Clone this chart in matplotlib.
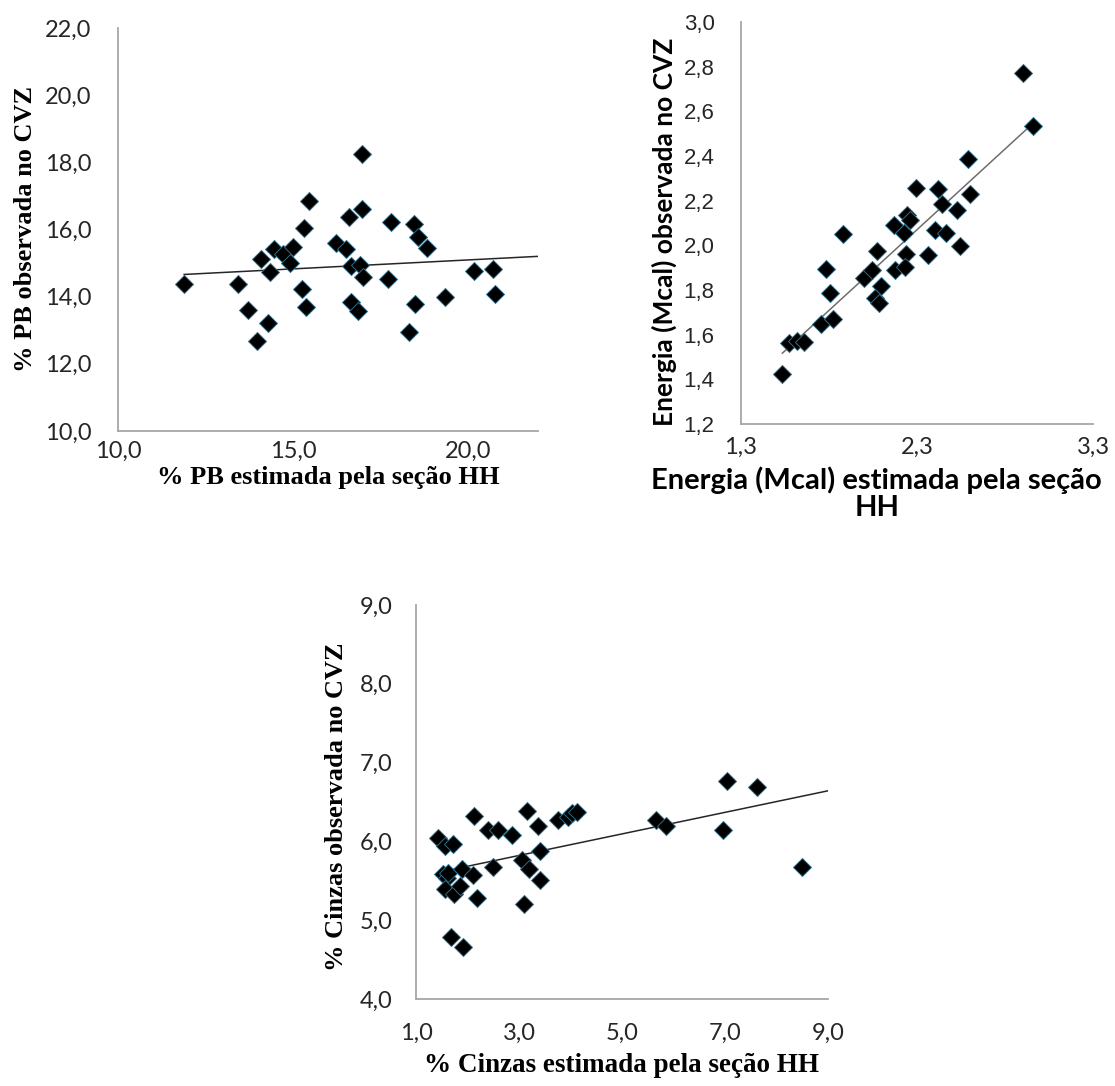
import numpy as np
import matplotlib
matplotlib.use("Agg")
import matplotlib.pyplot as plt
from matplotlib.ticker import FuncFormatter

# ---------------- data ----------------
pb_est = [11.89, 13.44, 13.72, 13.98, 14.28, 14.09, 14.34, 14.46, 14.72, 14.99,
          14.91, 15.25, 15.37, 15.30, 15.46, 16.22, 16.51, 16.61, 16.96, 16.98,
          16.65, 16.90, 16.99, 16.65, 16.87, 17.70, 17.80, 18.46, 18.58, 18.82,
          18.49, 18.31, 19.34, 20.18, 20.71, 20.77]
pb_obs = [14.37, 14.37, 13.60, 12.69, 13.22, 15.11, 14.74, 15.42, 15.27, 15.47,
          14.99, 14.23, 13.68, 16.05, 16.85, 15.60, 15.41, 16.36, 16.60, 18.24,
          14.91, 14.94, 14.59, 13.83, 13.58, 14.52, 16.21, 16.15, 15.78, 15.44,
          13.78, 12.94, 14.00, 14.76, 14.82, 14.07]

en_est = [1.535, 1.570, 1.617, 1.659, 1.754, 1.822, 1.784, 1.803, 1.879, 1.997,
          2.044, 2.073, 2.097, 2.063, 2.082, 2.168, 2.177, 2.225, 2.244, 2.262,
          2.238, 2.230, 2.297, 2.361, 2.405, 2.462, 2.418, 2.443, 2.525, 2.542,
          2.600, 2.591, 2.904, 2.959]
en_obs = [1.422, 1.564, 1.571, 1.568, 1.650, 1.670, 1.894, 1.788, 2.050, 1.855,
          1.889, 1.975, 1.817, 1.765, 1.740, 2.090, 1.889, 2.056, 2.138, 2.113,
          1.961, 1.904, 2.255, 1.956, 2.068, 2.056, 2.251, 2.187, 2.157, 1.998,
          2.232, 2.386, 2.772, 2.535]

cz_est = [1.43, 1.56, 1.71, 1.53, 1.60, 1.63, 1.56, 1.74, 1.85, 1.89,
          2.10, 2.18, 2.13, 1.67, 1.91, 2.40, 2.60, 2.86, 2.49, 3.05,
          3.19, 3.15, 3.36, 3.41, 3.41, 3.10, 3.76, 3.96, 4.02, 4.12,
          5.66, 5.85, 6.97, 7.03, 7.63, 8.49]
cz_obs = [6.04, 5.94, 5.97, 5.59, 5.53, 5.60, 5.39, 5.33, 5.44, 5.65,
          5.57, 5.28, 6.32, 4.79, 4.66, 6.14, 6.14, 6.08, 5.68, 5.76,
          5.65, 6.38, 6.20, 5.88, 5.51, 5.21, 6.27, 6.31, 6.36, 6.37,
          6.27, 6.20, 6.15, 6.77, 6.69, 5.68]

pb_xticks = [10.0, 15.0, 20.0]
pb_yticks = [10.0, 12.0, 14.0, 16.0, 18.0, 20.0, 22.0]
pb_xlim = (10.0, 22.0)
en_xticks = [1.3, 2.3, 3.3]
en_yticks = [1.2, 1.4, 1.6, 1.8, 2.0, 2.2, 2.4, 2.6, 2.8, 3.0]
en_xlim = (1.3, 3.3)
cz_xticks = [1.0, 3.0, 5.0, 7.0, 9.0]
cz_yticks = [4.0, 5.0, 6.0, 7.0, 8.0, 9.0]
cz_xlim = (1.0, 9.0)

W, H = 1115, 1086
fig = plt.figure(figsize=(W / 100, H / 100), dpi=100)


def axes_px(left, top, right, bottom):
    return fig.add_axes([left / W, 1 - bottom / H, (right - left) / W, (bottom - top) / H])


def comma_fmt(v, pos):
    return f"{v:.1f}".replace(".", ",")


def style(ax, xlim, xticks, yticks, tickfont, ticksize, xpad, ypad):
    ax.set_xlim(*xlim)
    ax.set_ylim(yticks[0], yticks[-1])
    ax.set_xticks(xticks)
    ax.set_yticks(yticks)
    ax.xaxis.set_major_formatter(FuncFormatter(comma_fmt))
    ax.yaxis.set_major_formatter(FuncFormatter(comma_fmt))
    for s in ("top", "right"):
        ax.spines[s].set_visible(False)
    for s in ("left", "bottom"):
        ax.spines[s].set_color("#a6a6a6")
        ax.spines[s].set_linewidth(1.3)
    ax.tick_params(length=0, labelsize=ticksize, colors="#262626")
    ax.tick_params(axis="y", pad=ypad)
    ax.tick_params(axis="x", pad=xpad)
    for lab in ax.get_xticklabels() + ax.get_yticklabels():
        lab.set_fontfamily(tickfont)
    ax.patch.set_alpha(0)


def scatter_trend(ax, x, y, x0, x1, lc):
    x = np.asarray(x)
    y = np.asarray(y)
    b1, b0 = np.polyfit(x, y, 1)
    xs = np.array([x0, x1])
    ax.plot(xs, b0 + b1 * xs, color=lc, lw=1.1, zorder=2)
    ax.plot(x, y, ls="none", marker="D", ms=9, mfc="black",
            mec="#2f6b86", mew=0.7, zorder=3, clip_on=False)


serif = "Liberation Serif"

# Panel 1: PB
ax1 = axes_px(118, 28, 538, 431)
scatter_trend(ax1, pb_est, pb_obs, min(pb_est), pb_xlim[1], "#262626")
style(ax1, pb_xlim, pb_xticks, pb_yticks, "Lato", 17, 7, 19)
ax1.set_xlabel("% PB estimada pela seção HH", fontfamily=serif,
               fontweight="bold", fontsize=19, labelpad=3)
ax1.set_ylabel("% PB observada no CVZ", fontfamily=serif,
               fontweight="bold", fontsize=19, labelpad=6)

# Panel 2: Energia
ax2 = axes_px(741, 22, 1093, 424)
scatter_trend(ax2, en_est, en_obs, min(en_est), max(en_est), "#6e6e6e")
style(ax2, en_xlim, en_xticks, en_yticks, "Lato", 17, 9, 19)
for lab in ax2.get_yticklabels():
    lab.set_fontfamily("Liberation Sans")
    lab.set_fontsize(16)
ax2.set_xlabel("Energia (Mcal) estimada pela seção\nHH", fontfamily="Lato",
               fontweight="bold", fontsize=21, linespacing=1.05)
ax2.xaxis.set_label_coords(0.386, -0.105)
ax2.set_ylabel("Energia (Mcal) observada no CVZ", fontfamily="Lato",
               fontweight="bold", fontsize=19, labelpad=5)
ax2.yaxis.label.set_y(0.478)

# Panel 3: Cinzas
ax3 = axes_px(416, 605, 828, 999)
scatter_trend(ax3, cz_est, cz_obs, min(cz_est), cz_xlim[1], "#262626")
style(ax3, cz_xlim, cz_xticks, cz_yticks, "Lato", 17, 17, 17)
ax3.set_xlabel("% Cinzas estimada pela seção HH", fontfamily=serif,
               fontweight="bold", fontsize=19.5, labelpad=7)
ax3.set_ylabel("% Cinzas observada no CVZ", fontfamily=serif,
               fontweight="bold", fontsize=19, labelpad=8)
ax3.yaxis.label.set_y(0.487)

fig.savefig("out.png", dpi=100, facecolor="white")
